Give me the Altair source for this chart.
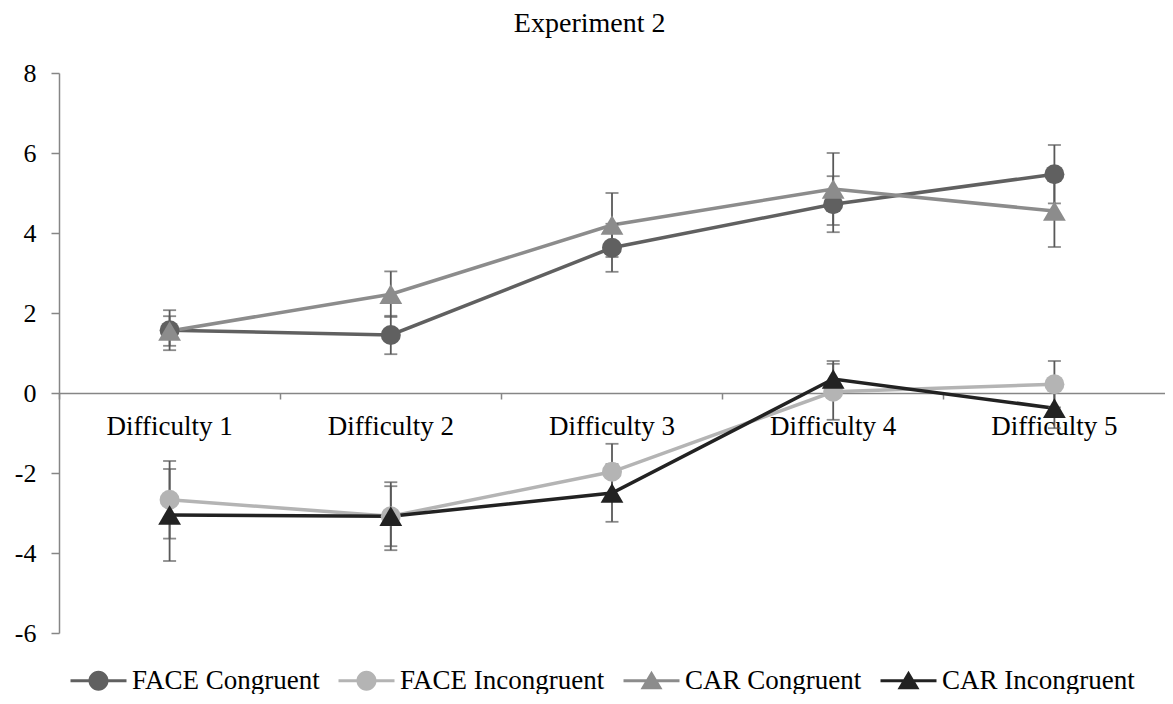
import altair as alt
import pandas as pd

categories = ["Difficulty 1", "Difficulty 2", "Difficulty 3", "Difficulty 4", "Difficulty 5"]
series_names = ["FACE Congruent", "FACE Incongruent", "CAR Congruent", "CAR Incongruent"]
series_colors = ["#606060", "#b4b4b4", "#8c8c8c", "#222222"]
series_shapes = ["circle", "circle", "triangle", "triangle"]

face_cong = [1.57, 1.45, 3.63, 4.72, 5.47]
face_cong_err = [0.50, 0.48, 0.60, 0.70, 0.73]
face_incong = [-2.67, -3.08, -1.97, 0.03, 0.22]
face_incong_err = [0.97, 0.85, 0.70, 0.70, 0.58]
car_cong = [1.55, 2.47, 4.20, 5.10, 4.55]
car_cong_err = [0.37, 0.57, 0.80, 0.90, 0.90]
car_incong = [-3.05, -3.08, -2.50, 0.35, -0.38]
car_incong_err = [1.15, 0.75, 0.72, 0.45, 0.50]

values = [face_cong, face_incong, car_cong, car_incong]
errors = [face_cong_err, face_incong_err, car_cong_err, car_incong_err]

rows = []
for s, sh, colr, vals, errs in zip(series_names, series_shapes, series_colors, values, errors):
    for c, v, e in zip(categories, vals, errs):
        rows.append({"category": c, "series": s, "shape": sh, "color": colr, "value": v,
                     "lo": v - e, "hi": v + e})
df = pd.DataFrame(rows)

FONT = "Liberation Serif"
W, H = 1106, 560
AXIS_GRAY = "#868686"

x_enc = alt.X("category:N", sort=categories, title=None,
              scale=alt.Scale(paddingInner=0, paddingOuter=0),
              axis=alt.Axis(labelAngle=0, offset=-(H - H * 8 / 14), bandPosition=0,
                            domainColor=AXIS_GRAY, tickColor=AXIS_GRAY, tickSize=6,
                            labelFontSize=27, labelFont=FONT, labelColor="#000000",
                            labelPadding=14, domainWidth=1.5, tickWidth=1.5))
y_scale = alt.Scale(domain=[-6, 8], nice=False)
y_enc = alt.Y("value:Q", scale=y_scale, title=None,
              axis=alt.Axis(values=list(range(-6, 9, 2)), grid=False, domainColor=AXIS_GRAY,
                            tickColor=AXIS_GRAY, tickSize=8, labelFontSize=26, labelFont=FONT,
                            labelColor="#000000", labelPadding=15, domainWidth=1.5, tickWidth=1.5,
                            labelExpr="'' + datum.value"))
col = alt.Color("color:N", scale=None)

base = alt.Chart(df)

lines = base.mark_line(strokeWidth=3.5).encode(x=x_enc, y=y_enc, color=col, detail="series:N")

ERR = "#595959"
err_rule = base.mark_rule(color=ERR, strokeWidth=1.8).encode(
    x=alt.X("category:N", sort=categories), y=alt.Y("lo:Q", scale=y_scale), y2="hi:Q")
cap_lo = base.mark_tick(color=ERR, thickness=1.8, size=13).encode(
    x=alt.X("category:N", sort=categories), y=alt.Y("lo:Q", scale=y_scale))
cap_hi = base.mark_tick(color=ERR, thickness=1.8, size=13).encode(
    x=alt.X("category:N", sort=categories), y=alt.Y("hi:Q", scale=y_scale))

pts = []
for s, sh in zip(series_names, series_shapes):
    shape = "circle" if sh == "circle" else "triangle-up"
    p = base.transform_filter(alt.datum.series == s).mark_point(
        filled=True, opacity=1, shape=shape, size=400 if sh == "circle" else 520).encode(
        x=alt.X("category:N", sort=categories), y=alt.Y("value:Q", scale=y_scale), color=col)
    pts.append(p)

circle_path = ("M-2.8,-0.16 L2.8,-0.16 L2.8,0.16 L-2.8,0.16 Z "
               "M1,0 A1,1 0 1,1 -1,0 A1,1 0 1,1 1,0 Z")
tri_path = ("M-2.8,-0.16 L2.8,-0.16 L2.8,0.16 L-2.8,0.16 Z "
            "M0,-1.0 L1.1,0.85 L-1.1,0.85 Z")
legend_paths = [circle_path, circle_path, tri_path, tri_path]

# legend-only layer: no rows survive the filter, the legend comes from the explicit domain
legend_layer = base.transform_filter(alt.datum.value > 1000).mark_point(
    filled=True, opacity=1).encode(
    x=alt.X("category:N", sort=categories), y=alt.Y("value:Q", scale=y_scale),
    fill=alt.Fill("series:N", scale=alt.Scale(domain=series_names, range=series_colors),
                  legend=alt.Legend(title=None, orient="none", direction="horizontal",
                                    legendX=26, legendY=594,
                                    symbolSize=400, symbolOpacity=1, symbolStrokeWidth=0,
                                    labelFont=FONT, labelFontSize=27, labelColor="#000000",
                                    labelOffset=20, columnPadding=18, padding=0,
                                    labelLimit=400)),
    shape=alt.Shape("series:N", scale=alt.Scale(domain=series_names, range=legend_paths)))

chart = alt.layer(lines, err_rule, cap_lo, cap_hi, *pts, legend_layer).properties(
    width=W, height=H,
    title=alt.TitleParams("Experiment 2", font=FONT, fontSize=28, fontWeight="normal",
                          color="#000000", anchor="middle", frame="bounds", offset=22),
    padding={"left": 6, "top": 2, "right": 0, "bottom": 0},
).configure_view(stroke=None)

chart.save("out.html", embed_options={"renderer": "svg", "actions": False})
